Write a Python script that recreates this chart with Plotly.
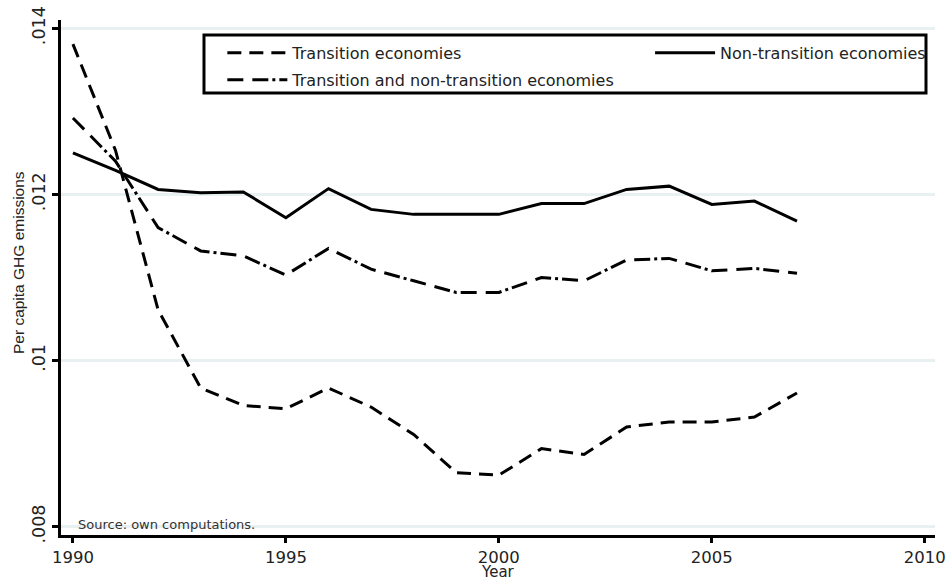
import plotly.graph_objects as go

years = list(range(1990, 2008))

transition = [0.01381, 0.01253, 0.01061, 0.00967, 0.00946, 0.00942, 0.00967, 0.00944,
              0.00911, 0.00865, 0.00862, 0.00894, 0.00887, 0.00920, 0.00926, 0.00926,
              0.00932, 0.00961]
non_transition = [0.01250, 0.01229, 0.01206, 0.01202, 0.01203, 0.01172, 0.01207, 0.01182,
                  0.01176, 0.01176, 0.01176, 0.01189, 0.01189, 0.01206, 0.01210, 0.01188,
                  0.01192, 0.01168]
combined = [0.01292, 0.01240, 0.01160, 0.01132, 0.01126, 0.01103, 0.01135, 0.01110,
            0.01096, 0.01082, 0.01082, 0.01100, 0.01096, 0.01121, 0.01123, 0.01108,
            0.01111, 0.01105]

ytick_vals = [0.008, 0.010, 0.012, 0.014]
ytick_text = [".008", ".01", ".012", ".014"]
xtick_vals = [1990, 1995, 2000, 2005, 2010]

FONT = "DejaVu Sans"
TXT = "#222"

fig = go.Figure()
fig.add_trace(go.Scatter(x=years, y=transition, mode="lines", name="Transition economies",
                         legend="legend", legendgroup="a", legendrank=1,
                         line=dict(color="black", width=3, dash="14px,8px")))
fig.add_trace(go.Scatter(x=years, y=non_transition, mode="lines", name="Non-transition economies",
                         legend="legend2",
                         line=dict(color="black", width=3)))
fig.add_trace(go.Scatter(x=years, y=combined, mode="lines",
                         name="Transition and non-transition economies",
                         legend="legend", legendgroup="b", legendrank=2,
                         line=dict(color="black", width=3, dash="16px,9px,16px,4px,3px,4px")))

legend_common = dict(
    orientation="v", yanchor="top", xanchor="left",
    borderwidth=0, bgcolor="rgba(0,0,0,0)",
    font=dict(family=FONT, size=16, color=TXT),
    itemwidth=60, tracegroupgap=3,
)

fig.update_layout(
    width=950, height=581,
    margin=dict(l=61, r=15, t=20, b=46),
    paper_bgcolor="white", plot_bgcolor="white",
    font=dict(family=FONT, size=16, color=TXT),
    showlegend=True,
    legend=dict(x=0.1846, y=0.969, traceorder="grouped", **legend_common),
    legend2=dict(x=0.674, y=0.969, **legend_common),
    xaxis=dict(
        range=[1989.72, 2010.24], tickvals=xtick_vals, ticks="outside", ticklen=5,
        tickwidth=3, tickcolor="black", showline=True, linecolor="black", linewidth=3,
        showgrid=False, zeroline=False, automargin=False,
        tickfont=dict(family=FONT, size=16.5, color=TXT),
    ),
    yaxis=dict(
        range=[0.0079, 0.0141], tickvals=ytick_vals, ticktext=ytick_text, tickangle=-90,
        ticks="outside", ticklen=6, tickwidth=3, tickcolor="black",
        showline=True, linecolor="black", linewidth=3, automargin=False,
        showgrid=True, gridcolor="#e8f0f2", gridwidth=3, zeroline=False,
        tickfont=dict(family=FONT, size=17.5, color=TXT),
    ),
    shapes=[dict(type="rect", xref="paper", yref="paper",
                 x0=0.1636, x1=0.9897, y0=0.8583, y1=0.9709,
                 line=dict(color="black", width=3), fillcolor="white", layer="below")],
)

fig.add_annotation(text="Year", xref="paper", yref="paper", x=0.5, y=-0.0725,
                   xanchor="center", yanchor="middle", showarrow=False,
                   font=dict(family=FONT, size=15, color=TXT))
fig.add_annotation(text="Per capita GHG emissions", xref="paper", yref="paper",
                   x=-0.0492, y=0.53, xanchor="center", yanchor="middle", textangle=-90,
                   showarrow=False, font=dict(family="Liberation Sans", size=15.5, color=TXT))
fig.add_annotation(text="Source: own computations.", xref="paper", yref="paper",
                   x=0.017, y=0.021, xanchor="left", yanchor="middle", showarrow=False,
                   font=dict(family=FONT, size=13, color="#333"))

fig.write_html(
    "out.html",
    config={"displayModeBar": False},
    post_script="document.body.style.margin='0';document.body.style.padding='0';"
                "document.body.style.overflow='hidden';",
)
